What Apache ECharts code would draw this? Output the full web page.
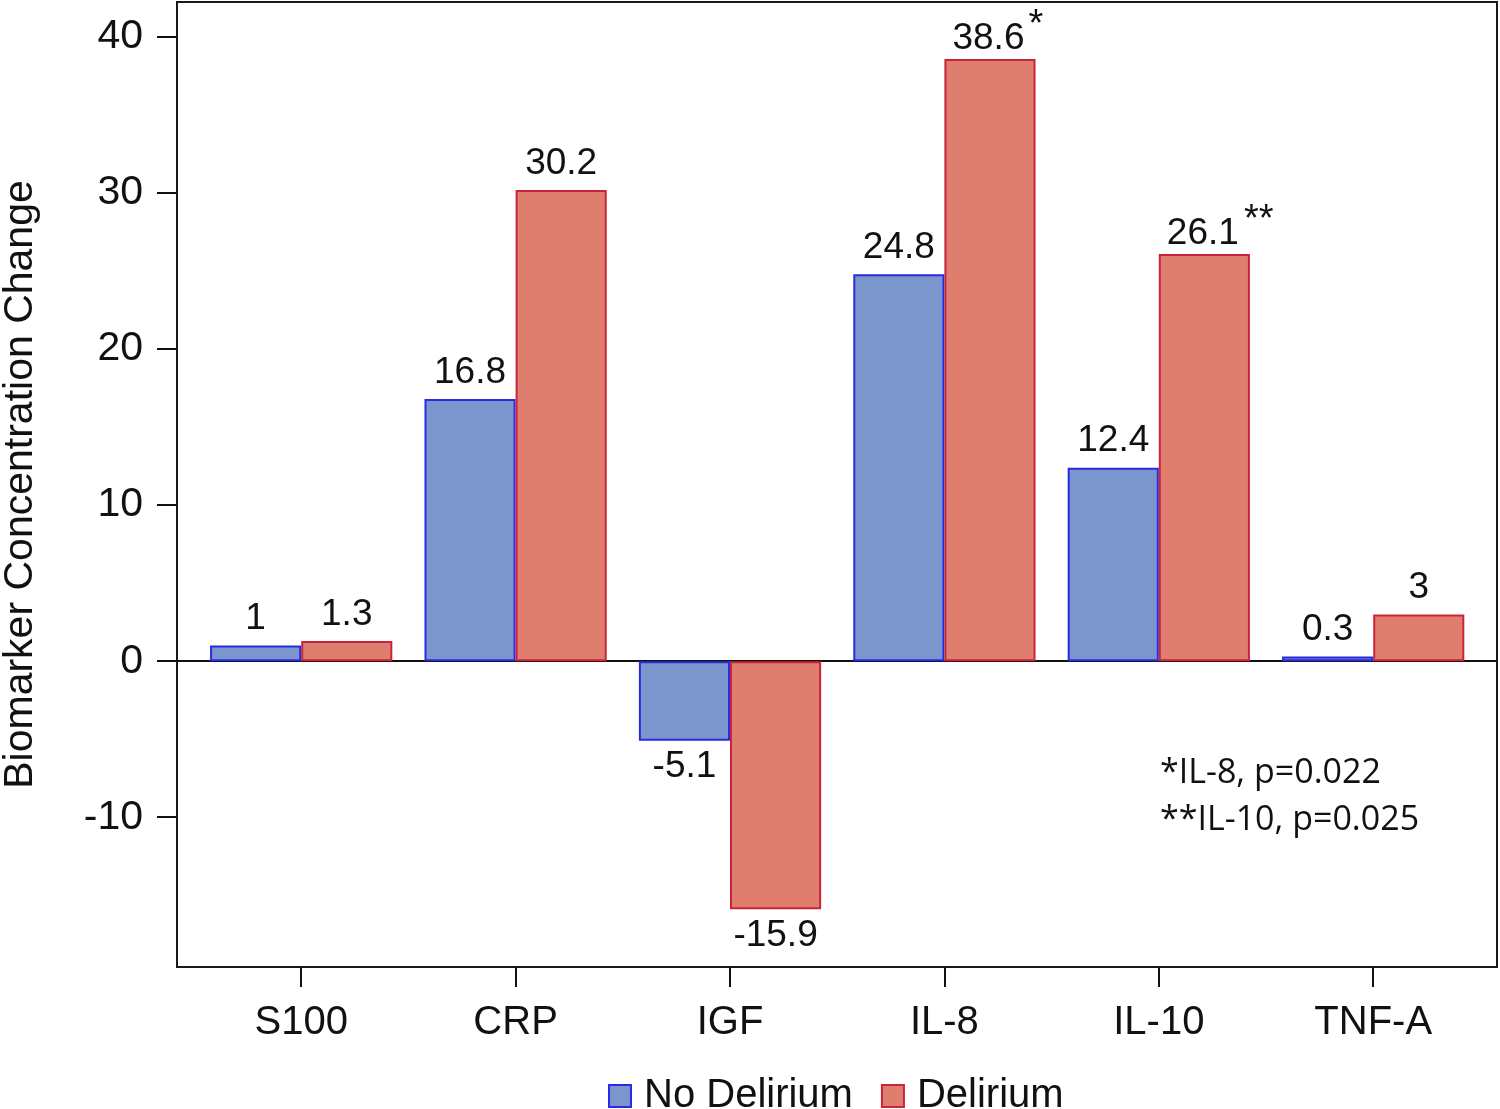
<!DOCTYPE html>
<html>
<head>
<meta charset="utf-8">
<script src="https://cdn.jsdelivr.net/npm/echarts@6/dist/echarts.min.js"></script>
<style>html,body{margin:0;padding:0;background:#fff;}#c{width:1500px;height:1109px;}</style>
</head>
<body>
<div id="c"></div>
<script>
const categories = ['S100', 'CRP', 'IGF', 'IL-8', 'IL-10', 'TNF-A'];
const noDelirium = [1, 16.8, -5.1, 24.8, 12.4, 0.3];
const delirium = [1.3, 30.2, -15.9, 38.6, 26.1, 3];
const deliriumMarks = ['', '', '', '*', '**', ''];
const yTicks = [-10, 0, 10, 20, 30, 40];
const seriesNames = ['No Delirium', 'Delirium'];
const yTitle = 'Biomarker Concentration Change';
const notes = ['*IL-8, p=0.022', '**IL-10, p=0.025'];

const FONT = 'Liberation Sans, Arial, sans-serif';
const yMin = -19.6, yMax = 42.25;

function makeData(vals, marks) {
  return vals.map((v, i) => {
    const m = marks ? marks[i] : '';
    const neg = v < 0;
    const item = { value: v, label: { position: neg ? 'bottom' : 'top' } };
    if (m) {
      item.label.formatter = '{pad|}{v|' + v + '}{s|' + m + '}';
      item.label.distance = 2;
      item.label.rich = {
        pad: { width: m.length * 17, lineHeight: 50 },
        v: { fontSize: 37, fontFamily: FONT, color: '#111', lineHeight: 50, verticalAlign: 'bottom' },
        s: { fontSize: 38, fontFamily: FONT, color: '#111', width: m.length * 17, lineHeight: 36, verticalAlign: 'top', padding: [0, 0, 0, 3] }
      };
    }
    return item;
  });
}

const chart = echarts.init(document.getElementById('c'), null, { renderer: 'canvas' });
chart.setOption({
  animation: false,
  backgroundColor: '#fff',
  textStyle: { fontFamily: FONT },
  grid: [
    { left: 177, top: 2, width: 1320, height: 965, show: true, borderColor: '#1a1a1a', borderWidth: 2,
      backgroundColor: 'transparent', containLabel: false, outerBoundsMode: 'none' },
    { left: 194, top: 2, width: 1286.4, height: 965, containLabel: false, outerBoundsMode: 'none' }
  ],
  legend: {
    data: seriesNames,
    left: 603, top: 1071,
    itemWidth: 22, itemHeight: 22, itemGap: 28,
    icon: 'rect',
    textStyle: { fontSize: 40, fontFamily: FONT, color: '#111', padding: [0, 0, 0, 8] }
  },
  xAxis: [
    { gridIndex: 0, type: 'value', min: 0, max: 1, show: true,
      axisLine: { show: true, onZero: true, lineStyle: { color: '#111', width: 2 } },
      axisTick: { show: false }, axisLabel: { show: false }, splitLine: { show: false } },
    { gridIndex: 1, type: 'category', data: categories, position: 'bottom',
      axisLine: { show: false, onZero: false },
      axisTick: { show: true, alignWithLabel: true, length: 20, lineStyle: { color: '#111', width: 2 } },
      axisLabel: { fontSize: 40, fontFamily: FONT, color: '#111', margin: 36 },
      splitLine: { show: false } }
  ],
  yAxis: [
    { gridIndex: 0, type: 'value', min: yMin, max: yMax,
      axisLine: { show: false },
      axisTick: { show: true, customValues: yTicks, length: 20, lineStyle: { color: '#111', width: 2 } },
      axisLabel: { customValues: yTicks, fontSize: 41, fontFamily: FONT, color: '#111', margin: 34 },
      splitLine: { show: false },
      name: yTitle, nameLocation: 'middle', nameGap: 136,
      nameTextStyle: { fontSize: 41, fontFamily: FONT, color: '#111' } },
    { gridIndex: 1, type: 'value', min: yMin, max: yMax, show: false, splitLine: { show: false } }
  ],
  series: [
    { name: seriesNames[0], type: 'bar', xAxisIndex: 1, yAxisIndex: 1,
      data: makeData(noDelirium, null),
      barGap: '0%', barCategoryGap: '15%',
      itemStyle: { color: '#7b96cd', borderColor: '#2a2ae0', borderWidth: 2 },
      label: { show: true, fontSize: 37, fontFamily: FONT, color: '#111', distance: 8 } },
    { name: seriesNames[1], type: 'bar', xAxisIndex: 1, yAxisIndex: 1,
      data: makeData(delirium, deliriumMarks),
      barGap: '0%', barCategoryGap: '15%',
      itemStyle: { color: '#df7e6e', borderColor: '#c8243a', borderWidth: 2 },
      label: { show: true, fontSize: 37, fontFamily: FONT, color: '#111', distance: 8 } }
  ],
  graphic: [
    { type: 'text', left: 1160, top: 750, z: 10,
      style: { text: notes.join('\n'), fontSize: 34, fontFamily: 'Open Sans, sans-serif', fill: '#111', lineHeight: 47 } }
  ]
});
</script>
</body>
</html>
